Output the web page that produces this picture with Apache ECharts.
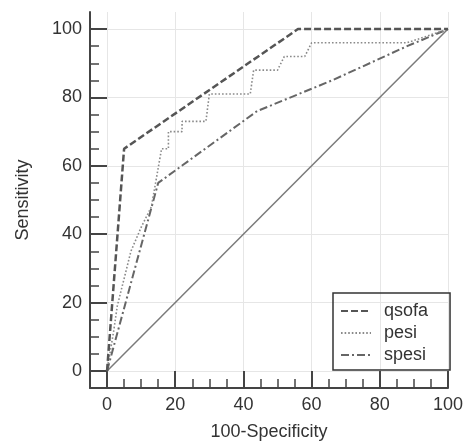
<!DOCTYPE html>
<html>
<head>
<meta charset="utf-8">
<script src="https://cdn.jsdelivr.net/npm/echarts@6/dist/echarts.min.js"></script>
<style>html,body{margin:0;padding:0;background:#fff}#c{width:466px;height:448px}</style>
</head>
<body>
<div id="c"></div>
<script>
// ---- data ----
const majorTicks = [0, 20, 40, 60, 80, 100];
const minorTicks = [5, 10, 15, 25, 30, 35, 45, 50, 55, 65, 70, 75, 85, 90, 95];
const diagX = [0, 100];
const diagY = [0, 100];
const qsofaX = [0, 5, 56, 100];
const qsofaY = [0, 65, 100, 100];
const pesiX = [0, 2, 3, 4, 5, 7, 10, 13, 16, 18, 18, 22, 22, 29, 30, 42, 43, 50, 52, 58, 60, 88, 100];
const pesiY = [0, 12, 19, 23, 27, 35, 42, 48, 65, 65, 70, 70, 73, 73, 81, 81, 88, 88, 92, 92, 96, 96, 100];
const spesiX = [0, 15, 44, 66, 88, 94, 100];
const spesiY = [0, 55, 76, 85, 95, 97.5, 100];

const zip = (xs, ys) => xs.map((x, i) => [x, ys[i]]);
const FONT = 'Liberation Sans, Arial, sans-serif';
const TXT = '#333';

const chart = echarts.init(document.getElementById('c'), null, {renderer: 'canvas'});
const baseAxis = {
  type: 'value', min: -5,
  axisLine: {show: true, onZero: false, lineStyle: {color: '#444', width: 2}},
  axisTick: {show: true, inside: true, length: 17, customValues: majorTicks, lineStyle: {color: '#444', width: 2}},
  axisLabel: {customValues: majorTicks, fontSize: 18, color: TXT, fontFamily: FONT, margin: 8},
  splitLine: {show: true, lineStyle: {color: '#e6e6e6', width: 1}}
};
const minorAxis = {
  type: 'value', min: -5,
  axisLine: {show: false, onZero: false},
  axisTick: {show: true, inside: true, length: 9, customValues: minorTicks, lineStyle: {color: '#444', width: 1.5}},
  axisLabel: {show: false},
  splitLine: {show: false}
};
chart.setOption({
  animation: false,
  backgroundColor: '#fff',
  grid: {left: 90, right: 16, top: 12, bottom: 60},
  xAxis: [
    Object.assign({}, baseAxis, {max: 100, position: 'bottom', name: '100-Specificity', nameLocation: 'middle', nameGap: 35,
      nameTextStyle: {fontSize: 18, color: TXT, fontFamily: FONT}}),
    Object.assign({}, minorAxis, {max: 100, position: 'bottom'})
  ],
  yAxis: [
    Object.assign({}, baseAxis, {max: 105, position: 'left', name: 'Sensitivity', nameLocation: 'middle', nameGap: 58,
      nameTextStyle: {fontSize: 18, color: TXT, fontFamily: FONT}}),
    Object.assign({}, minorAxis, {max: 105, position: 'left'})
  ],
  legend: {
    orient: 'vertical', left: 333, top: 293,
    padding: [9, 22, 6, 7],
    itemWidth: 30, itemHeight: 12, itemGap: 4,
    borderColor: '#333', borderWidth: 1.5,
    itemStyle: {opacity: 0},
    data: ['qsofa', 'pesi', 'spesi'],
    textStyle: {fontSize: 18, color: TXT, fontFamily: FONT, lineHeight: 18, padding: [0, 0, 0, 8]}
  },
  series: [
    {name: 'diag', type: 'line', data: zip(diagX, diagY), symbol: 'none', silent: true,
      lineStyle: {color: '#7a7a7a', width: 1.5, type: 'solid'}, z: 1},
    {name: 'spesi', type: 'line', data: zip(spesiX, spesiY), symbol: 'none',
      itemStyle: {color: '#666'},
      lineStyle: {color: '#666', width: 2, type: [8, 3, 2, 3]}, z: 2},
    {name: 'pesi', type: 'line', data: zip(pesiX, pesiY), symbol: 'none',
      itemStyle: {color: '#8a8a8a'},
      lineStyle: {color: '#8a8a8a', width: 1.6, type: [1.6, 2]}, z: 3},
    {name: 'qsofa', type: 'line', data: zip(qsofaX, qsofaY), symbol: 'none',
      itemStyle: {color: '#555'},
      lineStyle: {color: '#555', width: 2.5, type: [7, 3]}, z: 4}
  ]
});
</script>
</body>
</html>
